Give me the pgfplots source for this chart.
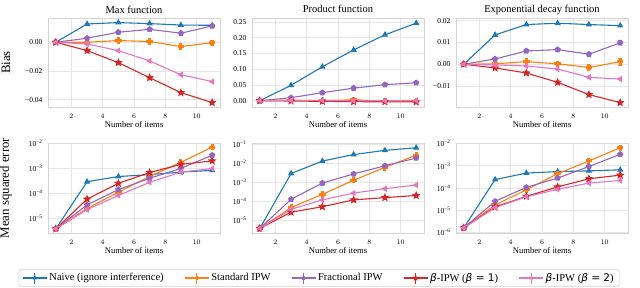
\documentclass[border=0pt]{standalone}
\usepackage{fontspec}
\setmainfont{Liberation Serif}
\newfontfamily\djv{DejaVu Sans}
\usepackage{pgfplots}
\pgfplotsset{compat=1.18}
\usetikzlibrary{plotmarks}
\definecolor{cblue}{HTML}{1F77B4}
\definecolor{corange}{HTML}{FF7F0E}
\definecolor{cpurple}{HTML}{9467BD}
\definecolor{cred}{HTML}{D62728}
\definecolor{cpink}{HTML}{E377C2}
\definecolor{gridc}{HTML}{E6E6E6}
\definecolor{framec}{HTML}{D4D4D4}
\definecolor{legc}{HTML}{D0D0D0}
\pgfdeclareplotmark{fplus}{%
  \pgfpathrectangle{\pgfqpoint{-\pgfplotmarksize}{-0.36\pgfplotmarksize}}{\pgfqpoint{2\pgfplotmarksize}{0.72\pgfplotmarksize}}%
  \pgfpathrectangle{\pgfqpoint{-0.36\pgfplotmarksize}{-\pgfplotmarksize}}{\pgfqpoint{0.72\pgfplotmarksize}{2\pgfplotmarksize}}%
  \pgfusepathqfillstroke}
\pgfdeclareplotmark{fstar}{%
  \pgfpathmoveto{\pgfpointpolar{90}{1.2\pgfplotmarksize}}%
  \pgfpathlineto{\pgfpointpolar{126}{0.55\pgfplotmarksize}}%
  \pgfpathlineto{\pgfpointpolar{162}{1.2\pgfplotmarksize}}%
  \pgfpathlineto{\pgfpointpolar{198}{0.55\pgfplotmarksize}}%
  \pgfpathlineto{\pgfpointpolar{234}{1.2\pgfplotmarksize}}%
  \pgfpathlineto{\pgfpointpolar{270}{0.55\pgfplotmarksize}}%
  \pgfpathlineto{\pgfpointpolar{306}{1.2\pgfplotmarksize}}%
  \pgfpathlineto{\pgfpointpolar{342}{0.55\pgfplotmarksize}}%
  \pgfpathlineto{\pgfpointpolar{18}{1.2\pgfplotmarksize}}%
  \pgfpathlineto{\pgfpointpolar{54}{0.55\pgfplotmarksize}}%
  \pgfpathclose\pgfusepathqfillstroke}
\pgfplotsset{
  mybase/.style={
    scale only axis, width=172pt,
    xmin=0.5, xmax=11.5, xtick={2,4,6,8,10},
    scaled y ticks=false, scaled x ticks=false,
    grid=major, major grid style={draw=gridc, line width=0.7pt},
    axis line style={draw=framec, line width=0.8pt},
    major tick length=0pt, minor tick length=0pt,
    tick label style={font=\fontsize{7.5}{8}\selectfont},
    xticklabel style={anchor=base, yshift=-11.3pt},
    yticklabel style={anchor=east, xshift=-2pt},
    xlabel={Number of items},
    xlabel style={font=\fontsize{8.6}{10}\selectfont, at={(rel axis cs:0.5,0)}, anchor=base, yshift=-20.8pt},
    ylabel style={font=\fontsize{12.8}{14}\selectfont, at={(rel axis cs:-0.245,0.5)}, anchor=center},
    title style={font=\fontsize{10.5}{12}\selectfont, at={(rel axis cs:0.5,1)}, anchor=base, yshift=-1pt},
    every axis plot/.append style={line width=1.1pt, mark size=2.6pt, mark options={solid}},
    error bars/error bar style={line width=0.9pt},
    error bars/error mark options={rotate=90, mark size=1.8pt, line width=0.9pt},
  },
  mytop/.style={mybase, height=89pt},
  mybot/.style={mybase, height=90pt},
  snaive/.style={color=cblue, mark=triangle*},
  sstd/.style={color=corange, mark=fplus},
  sfrac/.style={color=cpurple, mark=pentagon*},
  sb1/.style={color=cred, mark=fstar},
  sb2/.style={color=cpink, mark=triangle*, mark options={rotate=90}},
}
\begin{document}
\begin{tikzpicture}
\path[use as bounding box] (0,0) rectangle (640pt,287pt);
% ---------- Top row: Bias ----------
\begin{axis}[mytop, at={(48pt,180pt)}, anchor=south west,
  title={Max function}, ylabel={Bias},
  ymin=-0.0451, ymax=0.0169,
  ytick={-0.04,-0.02,0}, yticklabels={−0.04,−0.02,0.00}]
\addplot[snaive] coordinates {(1,0) (3,0.01275) (5,0.0137) (7,0.0130) (9,0.0120) (11,0.0118)};
\addplot[sstd, error bars/.cd, y dir=both, y explicit] coordinates {(1,0) +- (0,0.0004) (3,0.0000) +- (0,0.0004) (5,0.0012) +- (0,0.0006) (7,0.0005) +- (0,0.0007) (9,-0.0030) +- (0,0.0009) (11,-0.0003) +- (0,0.0015)};
\addplot[sfrac, error bars/.cd, y dir=both, y explicit] coordinates {(1,0) +- (0,0.0002) (3,0.0028) +- (0,0.0003) (5,0.0070) +- (0,0.0004) (7,0.0090) +- (0,0.0005) (9,0.0063) +- (0,0.0006) (11,0.0114) +- (0,0.0008)};
\addplot[sb1] coordinates {(1,0) (3,-0.0058) (5,-0.0142) (7,-0.0247) (9,-0.0351) (11,-0.0420)};
\addplot[sb2] coordinates {(1,0) (3,-0.0012) (5,-0.0058) (7,-0.0130) (9,-0.0226) (11,-0.0274)};
\end{axis}
\begin{axis}[mytop, at={(252pt,180pt)}, anchor=south west,
  title={Product function},
  ymin=-0.020, ymax=0.263,
  ytick={0,0.05,0.1,0.15,0.2,0.25}, yticklabels={0.00,0.05,0.10,0.15,0.20,0.25}]
\addplot[snaive] coordinates {(1,0) (3,0.049) (5,0.108) (7,0.1615) (9,0.2096) (11,0.2465)};
\addplot[sstd] coordinates {(1,0) (3,0.002) (5,0.000) (7,0.003) (9,-0.001) (11,-0.002)};
\addplot[sfrac] coordinates {(1,0) (3,0.0096) (5,0.0256) (7,0.0400) (9,0.0510) (11,0.0570)};
\addplot[sb1] coordinates {(1,0) (3,-0.001) (5,-0.002) (7,-0.003) (9,-0.0035) (11,-0.004)};
\addplot[sb2] coordinates {(1,0) (3,0.001) (5,0.001) (7,0.000) (9,0.000) (11,0.001)};
\end{axis}
\begin{axis}[mytop, at={(456pt,180pt)}, anchor=south west,
  title={Exponential decay function},
  ymin=-0.0196, ymax=0.0212,
  ytick={-0.01,0,0.01,0.02}, yticklabels={−0.01,0.00,0.01,0.02}]
\addplot[snaive] coordinates {(1,0) (3,0.01345) (5,0.0182) (7,0.0188) (9,0.0182) (11,0.0177)};
\addplot[sstd, error bars/.cd, y dir=both, y explicit] coordinates {(1,0) +- (0,0.0003) (3,0.0002) +- (0,0.0003) (5,0.0012) +- (0,0.0005) (7,0.0002) +- (0,0.0006) (9,-0.0015) +- (0,0.0008) (11,0.0012) +- (0,0.0016)};
\addplot[sfrac, error bars/.cd, y dir=both, y explicit] coordinates {(1,0) +- (0,0.0002) (3,0.0024) +- (0,0.0003) (5,0.0061) +- (0,0.0004) (7,0.0067) +- (0,0.0004) (9,0.0046) +- (0,0.0006) (11,0.0098) +- (0,0.0009)};
\addplot[sb1] coordinates {(1,0) (3,-0.0017) (5,-0.0040) (7,-0.0083) (9,-0.0139) (11,-0.0176)};
\addplot[sb2] coordinates {(1,0) (3,-0.0003) (5,-0.0008) (7,-0.0022) (9,-0.0060) (11,-0.0068)};
\end{axis}
% ---------- Bottom row: MSE ----------
\begin{axis}[mybot, ymode=log, at={(48pt,54pt)}, anchor=south west,
  ylabel={Mean squared error},
  ymin=2.51e-6, ymax=1.05e-2,
  ytick={1e-5,1e-4,1e-3,1e-2}, yticklabels={10\textsuperscript{−5},10\textsuperscript{−4},10\textsuperscript{−3},10\textsuperscript{−2}}]
\addplot[snaive] coordinates {(1,3.7e-6) (3,2.9e-4) (5,4.7e-4) (7,5.6e-4) (9,7.1e-4) (11,8.3e-4)};
\addplot[sstd] coordinates {(1,3.7e-6) (3,2.45e-5) (5,1.1e-4) (7,4.7e-4) (9,1.75e-3) (11,7.2e-3)};
\addplot[sfrac] coordinates {(1,3.7e-6) (3,3.4e-5) (5,1.4e-4) (7,4.0e-4) (9,1.0e-3) (11,3.4e-3)};
\addplot[sb1] coordinates {(1,3.7e-6) (3,5.8e-5) (5,2.5e-4) (7,6.8e-4) (9,1.45e-3) (11,2.0e-3)};
\addplot[sb2] coordinates {(1,3.7e-6) (3,2.2e-5) (5,8.1e-5) (7,2.75e-4) (9,7.1e-4) (11,9.8e-4)};
\end{axis}
\begin{axis}[mybot, ymode=log, at={(252pt,54pt)}, anchor=south west,
  ymin=2.04e-6, ymax=1.23e-1,
  ytick={1e-5,1e-4,1e-3,1e-2,1e-1}, yticklabels={10\textsuperscript{−5},10\textsuperscript{−4},10\textsuperscript{−3},10\textsuperscript{−2},10\textsuperscript{−1}},
  legend columns=5,
  legend style={at={(0.3895,-0.5)}, anchor=center, draw=legc, line width=0.6pt, rounded corners=2pt,
    font=\fontsize{10.5}{12}\selectfont, inner xsep=3.5pt, inner ysep=1.5pt,
    /tikz/every even column/.append style={column sep=18.5pt}},
  legend image code/.code={%
    \draw[mark repeat=2, mark phase=2, mark size=1.6pt] plot coordinates {(0pt,0pt) (12pt,0pt) (24pt,0pt)};
    \draw[mark=none, line width=0.9pt] (12pt,-5.5pt) -- (12pt,5.5pt);}]
\addplot[snaive] coordinates {(1,3.6e-6) (3,2.95e-3) (5,1.35e-2) (7,3.0e-2) (9,5.0e-2) (11,6.9e-2)};
\addlegendentry{Naive (ignore interference)}
\addplot[sstd] coordinates {(1,3.6e-6) (3,4.6e-5) (5,2.3e-4) (7,1.3e-3) (9,6.2e-3) (11,2.8e-2)};
\addlegendentry{Standard IPW}
\addplot[sfrac] coordinates {(1,3.6e-6) (3,1.26e-4) (5,9.1e-4) (7,2.8e-3) (9,7.6e-3) (11,1.95e-2)};
\addlegendentry{Fractional IPW}
\addplot[sb1] coordinates {(1,3.6e-6) (3,2.6e-5) (5,5.1e-5) (7,1.17e-4) (9,1.55e-4) (11,2.0e-4)};
\addlegendentry{{\djv\itshape β}-IPW ({\djv\itshape β}{\djv\ =\ 1})}
\addplot[sb2] coordinates {(1,3.6e-6) (3,3.7e-5) (5,1.17e-4) (7,2.7e-4) (9,4.6e-4) (11,7.2e-4)};
\addlegendentry{{\djv\itshape β}-IPW ({\djv\itshape β}{\djv\ =\ 2})}
\end{axis}
\begin{axis}[mybot, ymode=log, at={(456pt,54pt)}, anchor=south west,
  ymin=9.3e-7, ymax=1.07e-2,
  ytick={1e-6,1e-5,1e-4,1e-3,1e-2}, yticklabels={10\textsuperscript{−6},10\textsuperscript{−5},10\textsuperscript{−4},10\textsuperscript{−3},10\textsuperscript{−2}}]
\addplot[snaive] coordinates {(1,1.6e-6) (3,2.4e-4) (5,4.7e-4) (7,5.5e-4) (9,5.9e-4) (11,6.6e-4)};
\addplot[sstd] coordinates {(1,1.6e-6) (3,1.7e-5) (5,8.3e-5) (7,4.4e-4) (9,1.66e-3) (11,6.5e-3)};
\addplot[sfrac] coordinates {(1,1.6e-6) (3,2.5e-5) (5,1.07e-4) (7,2.8e-4) (9,9.3e-4) (11,3.3e-3)};
\addplot[sb1] coordinates {(1,1.6e-6) (3,1.4e-5) (5,4.2e-5) (7,1.12e-4) (9,2.6e-4) (11,3.8e-4)};
\addplot[sb2] coordinates {(1,1.6e-6) (3,1.3e-5) (5,4.0e-5) (7,8.7e-5) (9,1.66e-4) (11,2.2e-4)};
\end{axis}
\end{tikzpicture}
\end{document}
